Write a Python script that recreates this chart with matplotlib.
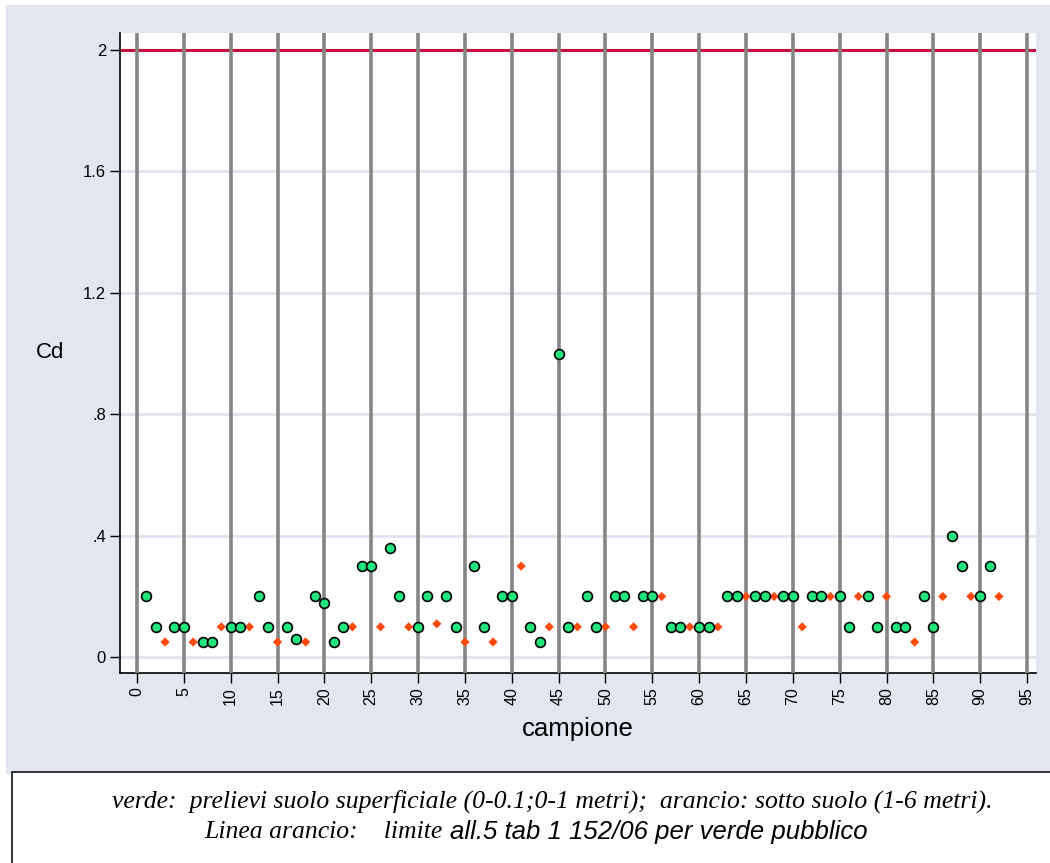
import matplotlib
matplotlib.use("Agg")
import matplotlib.pyplot as plt
from matplotlib.patches import Rectangle

# ---- data ----
surface_x = [1, 2, 4, 5, 7, 8, 10, 11, 13, 14, 16, 17, 19, 20, 21, 22, 24, 25, 27, 28,
             30, 31, 33, 34, 36, 37, 39, 40, 42, 43, 45, 46, 48, 49, 51, 52, 54, 55,
             57, 58, 60, 61, 63, 64, 66, 67, 69, 70, 72, 73, 75, 76, 78, 79, 81, 82,
             84, 85, 87, 88, 90, 91]
surface_cd = [0.2, 0.1, 0.1, 0.1, 0.05, 0.05, 0.1, 0.1, 0.2, 0.1, 0.1, 0.06, 0.2, 0.18,
              0.05, 0.1, 0.3, 0.3, 0.36, 0.2, 0.1, 0.2, 0.2, 0.1, 0.3, 0.1, 0.2, 0.2,
              0.1, 0.05, 1.0, 0.1, 0.2, 0.1, 0.2, 0.2, 0.2, 0.2, 0.1, 0.1, 0.1, 0.1,
              0.2, 0.2, 0.2, 0.2, 0.2, 0.2, 0.2, 0.2, 0.2, 0.1, 0.2, 0.1, 0.1, 0.1,
              0.2, 0.1, 0.4, 0.3, 0.2, 0.3]
sub_x = [3, 6, 9, 12, 15, 18, 23, 26, 29, 32, 35, 38, 41, 44, 47, 50, 53, 56, 59, 62,
         65, 68, 71, 74, 77, 80, 83, 86, 89, 92]
sub_cd = [0.05, 0.05, 0.1, 0.1, 0.05, 0.05, 0.1, 0.1, 0.1, 0.11, 0.05, 0.05, 0.3, 0.1,
          0.1, 0.1, 0.1, 0.2, 0.1, 0.1, 0.2, 0.2, 0.1, 0.2, 0.2, 0.2, 0.05, 0.2, 0.2, 0.2]
limit = 2.0
y_ticks = [0, 0.4, 0.8, 1.2, 1.6, 2.0]
y_ticklabels = ["0", ".4", ".8", "1.2", "1.6", "2"]
x_ticks = list(range(0, 96, 5))

W, H = 1050, 863
fig = plt.figure(figsize=(W / 100, H / 100), dpi=100)
fig.patch.set_facecolor("white")

bg = "#E1E6F0"
fig.patches.append(Rectangle((6 / W, (H - 774) / H), 1, (774 - 5) / H,
                             transform=fig.transFigure, facecolor=bg,
                             edgecolor="none", zorder=-10))
fig.patches.append(Rectangle((12 / W, -0.05), 1, (H - 772) / H + 0.05,
                             transform=fig.transFigure, facecolor="white",
                             edgecolor="#222222", linewidth=1.3, zorder=-9))

ax = fig.add_axes([120 / W, (H - 673) / H, (1036 - 120) / W, (673 - 33) / H])
ax.set_zorder(5)
ax.set_facecolor("white")
ax.set_xlim(-1.81, 95.95)
ax.set_ylim(-0.052, 2.056)

for y in y_ticks:
    ax.axhline(y, color=bg, lw=2.2, zorder=1)
ax.axhline(limit, color="#C8103C", lw=2.2, zorder=2)
for x in x_ticks:
    ax.axvline(x, color="#858585", lw=2.6, zorder=3)

ax.scatter(sub_x, sub_cd, marker="D", s=22, color="#FF4A0A", edgecolors="none", zorder=4)
ax.scatter(surface_x, surface_cd, marker="o", s=50, color="#1EE57E",
           edgecolors="black", linewidths=1.2, zorder=5)

ax.set_yticks(y_ticks)
ax.set_yticklabels(y_ticklabels, fontsize=12, family="Liberation Sans")
ax.set_xticks(x_ticks)
ax.set_xticklabels([str(v) for v in x_ticks], rotation=90, fontsize=11.5,
                   family="Liberation Sans")
ax.tick_params(axis="both", length=7, width=1, color="black", pad=3)
for side in ["top", "right"]:
    ax.spines[side].set_visible(False)
for side in ["left", "bottom"]:
    ax.spines[side].set_linewidth(1.2)

fig.text(50 / W, (H - 353) / H, "Cd", fontsize=16, family="Liberation Sans",
         ha="center", va="center")
fig.text(578 / W, (H - 729) / H, "campione", fontsize=18.5, family="Liberation Sans",
         ha="center", va="center")

fig.text(552 / W, (H - 801) / H,
         "verde:  prelievi suolo superficiale (0-0.1;0-1 metri);  arancio: sotto suolo (1-6 metri).",
         fontsize=18.5, family="Liberation Serif", style="italic", ha="center", va="center")
fig.text(443 / W, (H - 832) / H, "Linea arancio:    limite", fontsize=18.5,
         family="Liberation Serif", style="italic", ha="right", va="center")
fig.text(450 / W, (H - 832) / H, "all.5 tab 1 152/06 per verde pubblico", fontsize=18.5,
         family="Liberation Sans", style="italic", ha="left", va="center")

fig.savefig("out.png", dpi=100, facecolor=fig.get_facecolor())
